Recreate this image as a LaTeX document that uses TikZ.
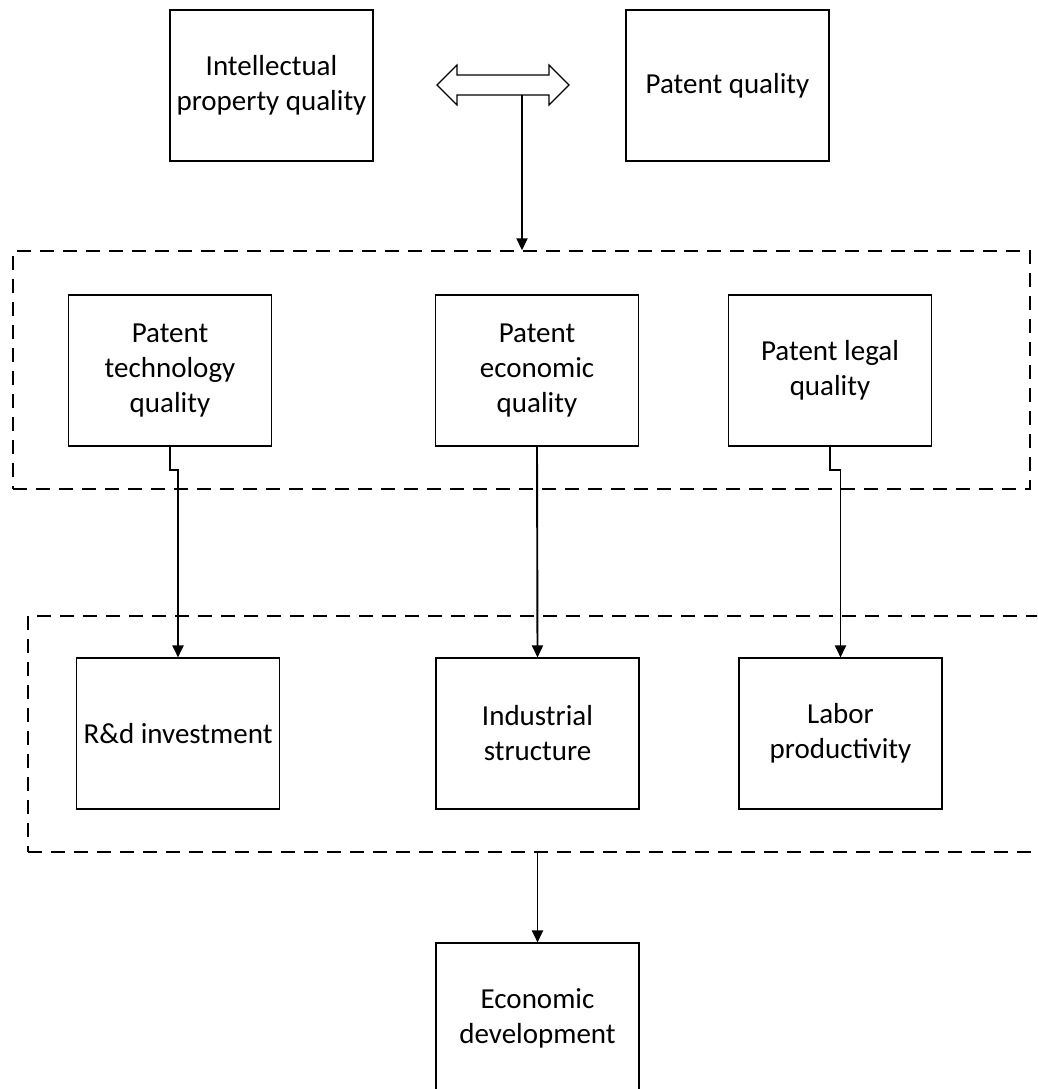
\documentclass[tikz,border=0pt]{standalone}
\usepackage{fontspec}
\setmainfont{Carlito}
\usepackage{tikz}
\usetikzlibrary{arrows.meta}

\begin{document}
\begin{tikzpicture}[x=1pt,y=-1pt,
  qbox/.style={draw, line width=1.1pt, minimum width=203pt, minimum height=151pt,
    inner sep=0pt, align=center, font=\fontsize{29}{35}\selectfont},
  grp/.style={draw, dash pattern=on 14pt off 9pt, line width=1.4pt, inner sep=0pt},
  link/.style={line width=1.9pt, -{Triangle[length=12pt,width=11pt]}}]
\useasboundingbox (0,0) rectangle (1037,1089);
\clip (0,0) rectangle (1037,1089);
%
\node[qbox] (ipq) at (271.5,85.5) {Intellectual\\property quality};
\node[qbox] (pq) at (727.5,85.5) {Patent quality};
\coordinate (both) at (503,85);
\draw[line width=1.1pt] (both) ++(-66,0) -- ++(20,-20) -- ++(0,10) -- ++(92,0)
  -- ++(0,-10) -- ++(20,20) -- ++(-20,20) -- ++(0,-10) -- ++(-92,0) -- ++(0,10) -- cycle;
\coordinate (jn) at (522,95);
%
\node[grp, minimum width=1017pt, minimum height=238pt] (grpA) at (521.5,370) {};
\node[qbox] (tech) at (170,370.5) {Patent\\technology\\quality};
\node[qbox] (econ) at (537,370.5) {Patent\\economic\\quality};
\node[qbox] (legal) at (830,370.5) {Patent legal\\quality};
%
\node[grp, minimum width=1032pt, minimum height=236pt] (grpB) at (544,734) {};
\node[qbox] (rd) at (178,733.5) {R\&d investment};
\node[qbox] (ind) at (537.5,733.5) {Industrial\\structure};
\node[qbox] (labor) at (840.5,733.5) {Labor\\productivity};
%
\node[qbox] (dev) at (537.5,1018.5) {Economic\\development};
%
\draw[link] (jn) -- (jn |- grpA.north);
\draw[link] (tech.south) -- ++(0,23) -| (rd.north);
\draw[link] (econ.south) -- (ind.north);
\draw[link] (legal.south) -- ++(0,23) -| (labor.north);
\draw[link] (grpB.south -| dev.north) -- (dev.north);
\end{tikzpicture}
\end{document}
